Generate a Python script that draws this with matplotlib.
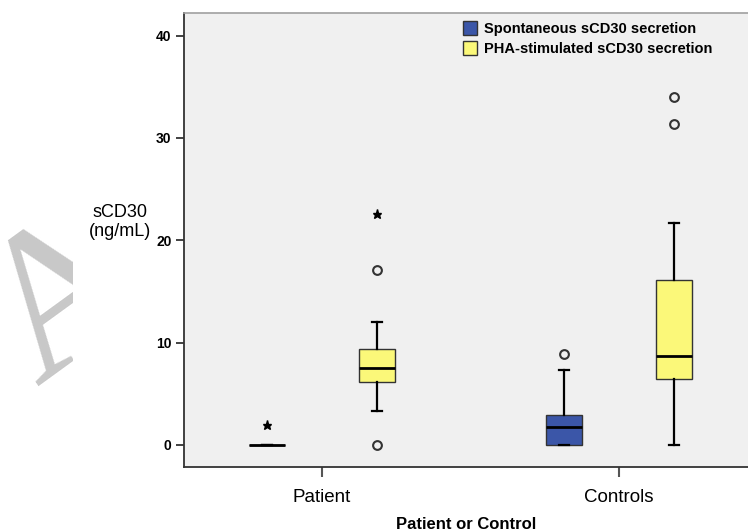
import matplotlib
matplotlib.use("Agg")
import matplotlib.pyplot as plt
from matplotlib.patches import Patch
from matplotlib.transforms import Bbox

categories = ["Patient", "Controls"]
series = ["Spontaneous sCD30 secretion", "PHA-stimulated sCD30 secretion"]
colors = ["#3B56A8", "#FBF879"]

# [Patient, Controls] per series
q1 = [[0.0, 0.0], [6.2, 6.45]]
med = [[0.0, 1.8], [7.55, 8.65]]
q3 = [[0.0, 2.95], [9.4, 16.1]]
whislo = [[0.0, 0.0], [3.3, 0.0]]
whishi = [[0.0, 7.3], [12.0, 21.7]]
outliers = [[[], [8.85]], [[17.1, 0.0], [34.0, 31.4]]]
extremes = [[[1.95], []], [[22.6], []]]

yticks = [0, 10, 20, 30, 40]

fig = plt.figure(figsize=(7.48, 5.31), dpi=100)
ax = fig.add_axes([184/748, 1-467/531, (748-184)/748, (467-13)/531])
ax.set_facecolor("#F0F0F0")

offsets = [-0.185, 0.185]
bw = 0.121
for s in range(2):
    stats = []
    pos = []
    for c in range(2):
        stats.append(dict(med=med[s][c], q1=q1[s][c], q3=q3[s][c],
                          whislo=whislo[s][c], whishi=whishi[s][c], fliers=[]))
        pos.append(c + offsets[s])
    ax.bxp(stats, positions=pos, widths=bw, patch_artist=True, showfliers=False,
           capwidths=0.034,
           boxprops=dict(facecolor=colors[s], edgecolor="#333333", linewidth=1.0),
           medianprops=dict(color="black", linewidth=2.0),
           whiskerprops=dict(color="black", linewidth=1.6),
           capprops=dict(color="black", linewidth=1.6))
    for c in range(2):
        x = c + offsets[s]
        if outliers[s][c]:
            ax.plot([x]*len(outliers[s][c]), outliers[s][c], linestyle="none",
                    marker="o", markersize=6.3, markerfacecolor="none",
                    markeredgecolor="#333333", markeredgewidth=1.5)
        if extremes[s][c]:
            ax.plot([x]*len(extremes[s][c]), extremes[s][c], linestyle="none",
                    marker="*", markersize=6.5, color="black")

ax.set_xlim(-0.465, 1.434)
ax.set_ylim(-2.15, 42.2)
ax.set_xticks([0, 1])
ax.set_xticklabels(categories, fontsize=13.5, family="Liberation Sans")
ax.set_yticks(yticks)
ax.set_yticklabels([str(t) for t in yticks], fontsize=10, fontweight="bold",
                   family="Liberation Sans")
ax.tick_params(axis="y", direction="out", length=6, width=1.3, color="#333333", pad=3)
ax.tick_params(axis="x", direction="out", length=7.5, width=1.5, color="#555555", pad=8)
for sp in ["left", "bottom"]:
    ax.spines[sp].set_color("#333333")
    ax.spines[sp].set_linewidth(1.3)
ax.spines["top"].set_color("#A0A0A0")
ax.spines["top"].set_linewidth(1.2)
ax.spines["right"].set_visible(False)

ax.set_xlabel("Patient or Control", fontsize=12, fontweight="bold",
              family="Liberation Sans", labelpad=8)
fig.text(120/748, 1-222/531, "sCD30\n(ng/mL)", ha="center", va="center",
         fontsize=13, family="Liberation Sans", linespacing=1.08)

handles = [Patch(facecolor=colors[i], edgecolor="#333333", linewidth=1.0) for i in range(2)]
leg = ax.legend(handles, series, loc="upper left", bbox_to_anchor=(0.471, 1.012),
                frameon=False, prop=dict(family="Liberation Sans", weight="bold", size=10.5),
                handlelength=1.0, handleheight=1.1, handletextpad=0.45, labelspacing=0.35)

# watermark glyph (cut at the image side as in the reference)
t = fig.text(68/748, 1-302/531, "A", fontsize=148, family="Liberation Serif",
             color="#C8C8C8", rotation=36, ha="center", va="center",
             rotation_mode="anchor", zorder=0)
t.set_clip_box(Bbox([[0, 0], [73, 531]]))

fig.savefig("out.png", dpi=100)
